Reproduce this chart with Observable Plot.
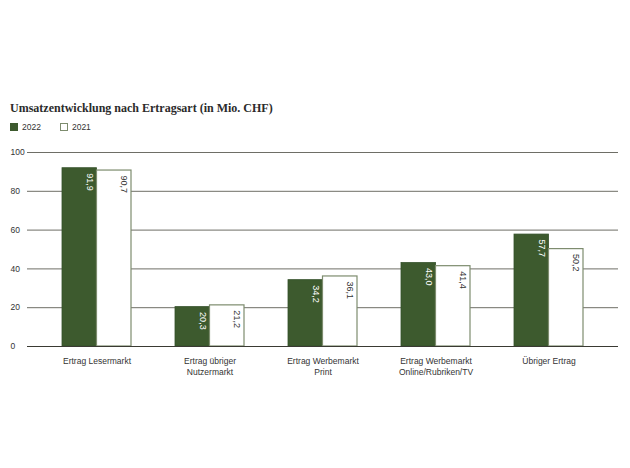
<!DOCTYPE html>
<html>
<head>
<meta charset="utf-8">
<script src="https://cdn.jsdelivr.net/npm/d3@7"></script>
<script src="https://cdn.jsdelivr.net/npm/@observablehq/plot@0.6"></script>
<style>
  body { margin: 0; background: #fff; width: 630px; }
  #head { position: relative; height: 140px; font-family: "Liberation Sans", Arial, sans-serif; color: #333; }
  #title { position: absolute; left: 10px; top: 100px; font-family: "Liberation Serif", serif; font-weight: bold; font-size: 12px; line-height: 16px; color: #2b2b2b; white-space: nowrap; }
  #legend { position: absolute; left: 10px; top: 121px; font-size: 8.5px; line-height: 12px; display: flex; }
  .item { display: flex; align-items: center; margin-right: 19px; }
  .sw { width: 8px; height: 8px; margin-right: 4px; box-sizing: border-box; }
</style>
</head>
<body>
<div id="head">
  <div id="title">Umsatzentwicklung nach Ertragsart (in Mio. CHF)</div>
  <div id="legend"></div>
</div>
<div id="chart"></div>
<script>
const categories = [
  "Ertrag Lesermarkt",
  "Ertrag übriger\nNutzermarkt",
  "Ertrag Werbemarkt\nPrint",
  "Ertrag Werbemarkt\nOnline/Rubriken/TV",
  "Übriger Ertrag"
];
const values2022 = [91.9, 20.3, 34.2, 43.0, 57.7];
const values2021 = [90.7, 21.2, 36.1, 41.4, 50.2];
const years = ["2022", "2021"];
const yTicks = [0, 20, 40, 60, 80, 100];

const green = "#3d5a2e";
const outline = "#7d8c6e";

const d2022 = categories.map((c, i) => ({category: c, year: years[0], value: values2022[i]}));
const d2021 = categories.map((c, i) => ({category: c, year: years[1], value: values2021[i]}));
const fmt = v => d3.format(".1f")(v).replace(".", ",");

// legend
const legend = document.getElementById("legend");
years.forEach((yr, i) => {
  const it = document.createElement("div");
  it.className = "item";
  const sw = document.createElement("div");
  sw.className = "sw";
  sw.style.background = i === 0 ? green : "#fff";
  sw.style.border = i === 0 ? `1px solid ${green}` : `1px solid ${outline}`;
  const t = document.createElement("span");
  t.textContent = yr;
  it.appendChild(sw); it.appendChild(t);
  legend.appendChild(it);
});

const chart = Plot.plot({
  width: 630,
  height: 328,
  marginLeft: 27,
  marginRight: 12,
  marginTop: 12,
  marginBottom: 122,
  x: {domain: categories, paddingInner: 0.39, paddingOuter: 0.31, axis: null, label: null},
  y: {domain: [0, 100], axis: null, label: null},
  style: {fontFamily: "Liberation Sans, Arial, sans-serif", fontSize: "8.5px", color: "#333", background: "#fff"},
  marks: [
    Plot.ruleY(yTicks.filter(t => t > 0), {stroke: "#6e6e66", strokeWidth: 1}),
    Plot.barY(d2022, {x: "category", y: "value", fill: green, stroke: "#34502a", strokeWidth: 0.8, insetRight: 34.5}),
    Plot.barY(d2021, {x: "category", y: "value", fill: "#fff", stroke: outline, strokeWidth: 1.2, insetLeft: 34.5}),
    Plot.ruleY([0], {stroke: "#3a3a33", strokeWidth: 1.2}),
    Plot.text(d2022, {x: "category", y: "value", text: d => fmt(d.value), rotate: 90, textAnchor: "start", dx: -7, dy: 5, fill: "#fff", fontSize: 9}),
    Plot.text(d2021, {x: "category", y: "value", text: d => fmt(d.value), rotate: 90, textAnchor: "start", dx: 27, dy: 5, fill: "#333", fontSize: 9}),
    Plot.axisY({ticks: yTicks, tickSize: 0, tickPadding: 17, textAnchor: "start", fill: "#333", label: null}),
    Plot.axisX({tickSize: 0, tickPadding: 9, lineHeight: 1.35, fill: "#333", label: null})
  ]
});
document.getElementById("chart").appendChild(chart);
</script>
</body>
</html>
